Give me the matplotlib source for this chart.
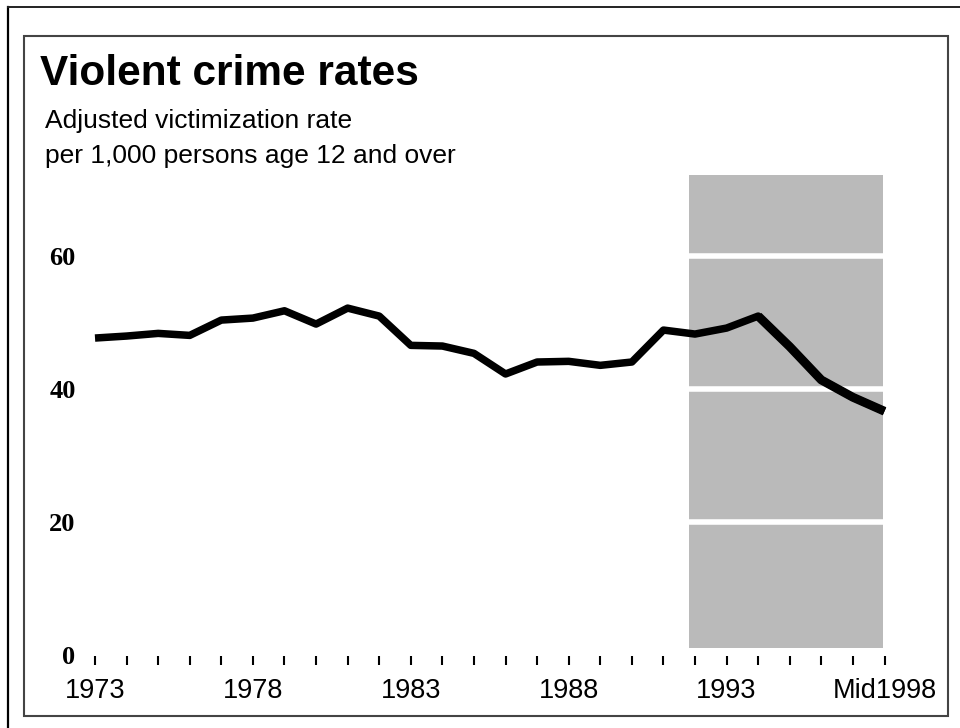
import numpy as np
import matplotlib
matplotlib.use('Agg')
import matplotlib.pyplot as plt
from matplotlib.lines import Line2D
from matplotlib.patches import Rectangle


# violent crime victimization rate, per 1,000 persons age 12+
years = [1973, 1974, 1975, 1976, 1977, 1978, 1979, 1980, 1981, 1982, 1983, 1984, 1985,
         1986, 1987, 1988, 1989, 1990, 1991, 1992, 1993, 1994, 1995, 1996, 1997, 1998]
rates = [47.7, 48.0, 48.4, 48.1, 50.4, 50.7, 51.8, 49.8, 52.2, 51.0, 46.6, 46.5, 45.4,
         42.3, 44.1, 44.2, 43.6, 44.1, 48.9, 48.3, 49.2, 51.0, 46.4, 41.4, 38.8, 36.7]
yticks = [0, 20, 40, 60]
xlabel_years = [1973, 1978, 1983, 1988, 1993, 1998]
xlabel_text = ['1973', '1978', '1983', '1988', '1993', 'Mid1998']
shade_span = (1991.8, 1997.95)
shade_top = 72.2

W, H = 960, 728
fig = plt.figure(figsize=(W/100, H/100), dpi=100)

# axes placed so that 1973..1998 and 0..72 land where the original has them
ax = fig.add_axes([95/W, (H-655.5)/H, (884.5-95)/W, (655.5-175)/H])
ax.set_xlim(1973, 1998)
ax.set_ylim(0, shade_top)

# gray panel, split by white gridlines
ax.fill_between(shade_span, 1.1, shade_top, color='#bababa', lw=0, zorder=1)
for y in yticks[1:]:
    ax.hlines(y, shade_span[0], shade_span[1], color='white', lw=4, zorder=2)

ax.plot(years, rates, color='black', lw=5.4, solid_joinstyle='round',
        solid_capstyle='butt', clip_on=False, zorder=3)
# the last stretch is drawn a bit heavier in the original
ax.plot(years[-5:], rates[-5:], color='black', lw=6.4, solid_joinstyle='round',
        solid_capstyle='butt', clip_on=False, zorder=3)

for s in ax.spines.values():
    s.set_visible(False)

ax.set_yticks(yticks)
ax.set_yticklabels([str(v) for v in yticks], family='Liberation Serif',
                   fontweight='bold', fontsize=19)
ax.tick_params(axis='y', length=0, pad=14)

ax.set_xticks(years)
ax.set_xticklabels([xlabel_text[xlabel_years.index(y)] if y in xlabel_years else ''
                    for y in years], family='Liberation Sans', fontsize=19.5)
ax.tick_params(axis='x', direction='out', length=6.5, width=1.5, color='black', pad=10)

# titles
fig.text(40/W, 1-85/H, 'Violent crime rates', family='Liberation Sans',
         fontweight='bold', fontsize=30.5, va='baseline', ha='left')
fig.text(45/W, 1-128/H, 'Adjusted victimization rate', family='Liberation Sans',
         fontsize=19, va='baseline', ha='left')
fig.text(45/W, 1-163/H, 'per 1,000 persons age 12 and over', family='Liberation Sans',
         fontsize=19, va='baseline', ha='left')

# frames
fig.patches.append(Rectangle((24/W, 1-716/H), (948-24)/W, (716-36)/H,
                             transform=fig.transFigure, fill=False,
                             edgecolor='#444444', lw=1.5))
fig.lines.append(Line2D([8/W, 8/W], [0, 1-7/H], transform=fig.transFigure,
                        color='black', lw=1.6))
fig.lines.append(Line2D([8/W, 1], [1-6.5/H, 1-6.5/H], transform=fig.transFigure,
                        color='#222222', lw=1.4))

fig.savefig('out.png', dpi=100)
